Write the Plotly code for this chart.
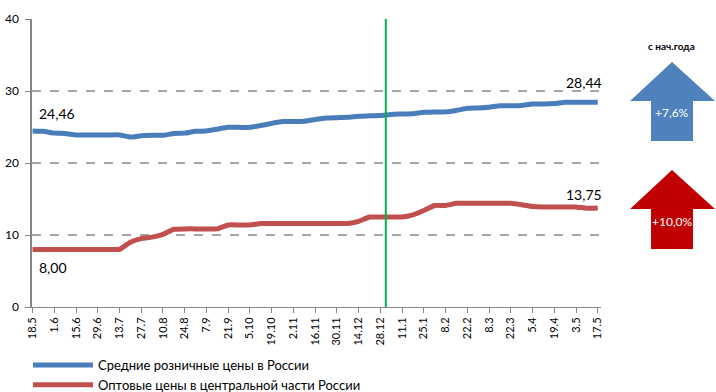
import plotly.graph_objects as go

# weekly dates, every other one is labelled on the axis
dates = [
    "18.5", "25.5", "1.6", "8.6", "15.6", "22.6", "29.6", "6.7", "13.7", "20.7",
    "27.7", "3.8", "10.8", "17.8", "24.8", "31.8", "7.9", "14.9", "21.9", "28.9",
    "5.10", "12.10", "19.10", "26.10", "2.11", "9.11", "16.11", "23.11", "30.11", "7.12",
    "14.12", "21.12", "28.12", "4.1", "11.1", "18.1", "25.1", "1.2", "8.2", "15.2",
    "22.2", "1.3", "8.3", "15.3", "22.3", "29.3", "5.4", "12.4", "19.4", "26.4",
    "3.5", "10.5", "17.5",
]
tick_labels = dates[::2]

retail = [
    24.46, 24.40, 24.15, 24.10, 23.90, 23.90, 23.90, 23.90, 23.90, 23.60,
    23.80, 23.85, 23.85, 24.10, 24.15, 24.40, 24.45, 24.70, 24.95, 24.95,
    24.95, 25.20, 25.50, 25.75, 25.75, 25.80, 26.05, 26.25, 26.30, 26.35,
    26.50, 26.55, 26.60, 26.75, 26.80, 26.85, 27.05, 27.10, 27.10, 27.30,
    27.60, 27.65, 27.75, 27.95, 27.95, 28.00, 28.20, 28.20, 28.25, 28.44,
    28.44, 28.44, 28.44,
]
wholesale = [
    8.00, 8.00, 8.00, 8.00, 8.00, 8.00, 8.00, 8.00, 8.00, 9.00,
    9.50, 9.70, 10.10, 10.80, 10.85, 10.85, 10.85, 10.85, 11.40, 11.40,
    11.40, 11.60, 11.60, 11.60, 11.60, 11.60, 11.60, 11.60, 11.60, 11.60,
    11.90, 12.50, 12.50, 12.50, 12.50, 12.80, 13.40, 14.10, 14.10, 14.40,
    14.40, 14.40, 14.40, 14.40, 14.40, 14.20, 13.95, 13.90, 13.90, 13.90,
    13.90, 13.70, 13.75,
]

names = ["Средние розничные цены в России",
         "Оптовые цены в центральной части России"]
colors = ["#4A7EBB", "#C0504D"]
first_labels = ["24,46", "8,00"]
last_labels = ["28,44", "13,75"]
growth = ["+7,6%", "+10,0%"]
arrow_colors = ["#4F81BD", "#C00000"]

FONT = "Lato"

W, H = 716, 392
L, R, T, B = 32, 601, 19, 307   # plot area in pixels

fig = go.Figure()
for name, ys, col in zip(names, [retail, wholesale], colors):
    fig.add_trace(go.Scatter(
        x=dates, y=ys, name=name, mode="lines",
        line=dict(color=col, width=5, shape="spline", smoothing=0.4),
        hoverinfo="x+y",
    ))

# value labels at the start and end of each line (x given as category index)
n = len(dates) - 1
for ys, a, b, s0, s1 in zip([retail, wholesale], first_labels, last_labels,
                            [17, -18], [20, 14]):
    fig.add_annotation(x=0, y=ys[0], text=a, showarrow=False,
                       xanchor="left", yanchor="middle", yshift=s0, xshift=4,
                       font=dict(size=14, color="#000"))
    fig.add_annotation(x=n, y=ys[-1], text=b, showarrow=False,
                       xanchor="right", yanchor="middle", yshift=s1, xshift=6,
                       font=dict(size=14, color="#000"))

# start of the year marker
fig.add_shape(type="line", xref="x", yref="y", x0=32.5, x1=32.5, y0=0, y1=40,
              line=dict(color="#00B050", width=2))


def px(x):
    return (x - L) / (R - L)


def py(y):
    return (B - y) / (B - T)


fig.add_annotation(xref="paper", yref="paper", x=px(671), y=py(46),
                   xanchor="center", yanchor="middle",
                   text="<b>с нач.года</b>", showarrow=False,
                   font=dict(size=10, color="#000"))

for top, txt, col in zip([62, 170], growth, arrow_colors):
    pts = [(672, top), (715, top + 39), (693, top + 39), (693, top + 79),
           (651, top + 79), (651, top + 39), (630, top + 39)]
    path = "M " + " L ".join(f"{px(a):.4f},{py(b):.4f}" for a, b in pts) + " Z"
    fig.add_shape(type="path", xref="paper", yref="paper", path=path,
                  fillcolor=col, line=dict(width=0), layer="below")
    fig.add_annotation(xref="paper", yref="paper", x=px(672), y=py(top + 51),
                       xanchor="center", yanchor="middle",
                       text=txt, showarrow=False,
                       font=dict(size=12, color="white"))

fig.update_xaxes(
    type="category", range=[-0.05, 52.3],
    tickmode="array", tickvals=list(range(0, len(dates), 2)),
    ticktext=tick_labels,
    tickangle=-90, tickfont=dict(size=11, color="#000"),
    showgrid=False, showline=True, linecolor="#868686", linewidth=1,
    ticks="outside", ticklen=5, tickcolor="#868686", automargin=False,
)
fig.update_yaxes(
    range=[0, 40], dtick=10, tickfont=dict(size=12, color="#000"),
    showgrid=True, gridcolor="#A6A6A6", griddash="dash", gridwidth=1.5,
    zeroline=False, showline=True, linecolor="#868686", linewidth=1.5,
    ticks="outside", ticklen=5, tickcolor="#868686", automargin=False,
    ticklabelstandoff=4,
)

fig.update_layout(
    width=W, height=H,
    margin=dict(l=L, r=W - R, t=T, b=H - B, autoexpand=False),
    plot_bgcolor="white", paper_bgcolor="white",
    font=dict(family=FONT, color="#000"),
    showlegend=True,
    legend=dict(orientation="v", x=px(28), xanchor="left",
                y=py(350), yanchor="top",
                font=dict(size=13, color="#000"),
                tracegroupgap=0, itemwidth=60, bgcolor="rgba(0,0,0,0)"),
)

# drop the default page margin so the figure sits at the window corner
fig.write_html("out.html", config={"displayModeBar": False},
               post_script="document.body.style.margin = '0';")
